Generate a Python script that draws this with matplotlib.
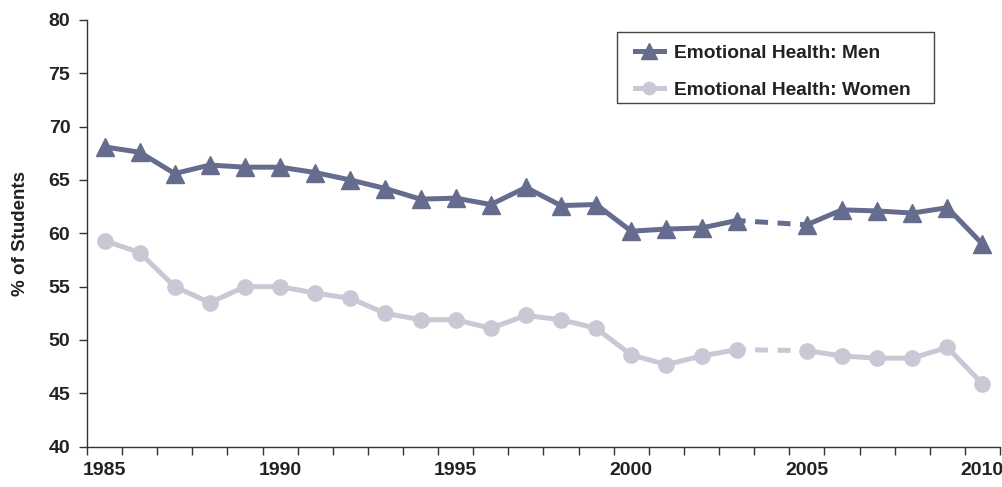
import numpy as np
import matplotlib.pyplot as plt
from matplotlib.lines import Line2D
from matplotlib.patches import Rectangle

years = list(range(1985, 2011))
# 2004 has no survey value (shown as a dotted bridge)
men = [68.1, 67.6, 65.6, 66.4, 66.2, 66.2, 65.7, 65.0, 64.2, 63.2, 63.3, 62.7, 64.3,
       62.6, 62.7, 60.2, 60.4, 60.5, 61.2, np.nan, 60.8, 62.2, 62.1, 61.9, 62.4, 59.0]
women = [59.3, 58.2, 55.0, 53.5, 55.0, 55.0, 54.4, 53.9, 52.5, 51.9, 51.9, 51.1, 52.3,
         51.9, 51.1, 48.6, 47.7, 48.5, 49.1, np.nan, 49.0, 48.5, 48.3, 48.3, 49.3, 45.9]
labels = ["Emotional Health: Men", "Emotional Health: Women"]

c_men = "#666c8d"
c_women = "#c9c9d6"

plt.rcParams['font.family'] = ['Liberation Sans', 'DejaVu Sans']
plt.rcParams['font.weight'] = 'bold'

fig = plt.figure(figsize=(10.03, 4.87), dpi=100)
ax = fig.add_axes([0.0867, 0.0828, 0.9103, 0.8762])

x = np.arange(len(years))
gap = years.index(2004)

for vals, col, mk, ms in [(men, c_men, '^', 13), (women, c_women, 'o', 11)]:
    v = np.array(vals)
    ax.plot(x, v, color=col, lw=3.6, marker=mk, ms=ms, mec=col, zorder=3)
    # dashed bridge across the missing year
    ax.plot([gap - 1, gap + 1], [v[gap - 1], v[gap + 1]], color=col, lw=3.6,
            ls=(0.8, (2.6, 1.9)), zorder=2)

ax.set_xlim(-0.5, len(years) - 0.5)
ax.set_ylim(40, 80)
ax.set_yticks(range(40, 81, 5))
ax.set_xticks(x[::5])
ax.set_xticklabels([str(y) for y in years[::5]])
ax.set_xticks(np.arange(-0.5, len(years)), minor=True)

for s in ['top', 'right']:
    ax.spines[s].set_visible(False)
for s in ['left', 'bottom']:
    ax.spines[s].set_color('#333333')
    ax.spines[s].set_linewidth(1.0)

ax.tick_params(axis='x', which='major', length=0, pad=11, labelsize=14, colors='#222222')
ax.tick_params(axis='x', which='minor', length=6, width=1, color='#333333')
ax.tick_params(axis='y', length=6, width=1, pad=6, labelsize=14, color='#333333',
               labelcolor='#222222')
ax.set_ylabel("% of Students", fontsize=13.5, fontweight='bold', color='#222222', labelpad=14)

# legend box drawn on its own so it can be sized like the original
fig.patches.append(Rectangle((0.6152, 0.788), 0.316, 0.1458, transform=fig.transFigure,
                             fill=False, edgecolor='#444444', lw=1.0))

handles = [Line2D([], [], color=c_men, lw=3.6, marker='^', ms=11),
           Line2D([], [], color=c_women, lw=3.6, marker='o', ms=9)]
leg = ax.legend(handles, labels, loc='upper left', bbox_to_anchor=(0.600, 0.942),
                borderaxespad=0, borderpad=0, fontsize=13.8, frameon=False,
                handlelength=1.5, handletextpad=0.57, labelspacing=1.0)
for t in leg.get_texts():
    t.set_color('#222222')

fig.savefig("out.png", dpi=100)
